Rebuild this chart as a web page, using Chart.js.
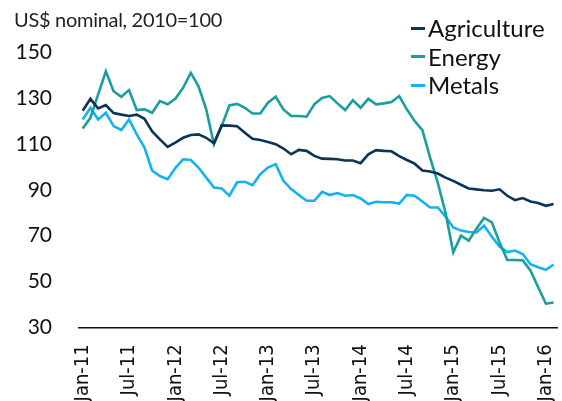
<!DOCTYPE html>
<html>
<head>
<meta charset="utf-8">
<script src="https://cdn.jsdelivr.net/npm/chart.js@4/dist/chart.umd.min.js"></script>
<style>
  body { margin: 0; background: #fff; }
  #wrap { position: relative; width: 562px; height: 401px; }
  #title { position: absolute; left: 14px; top: 7px; font: 20px Lato, sans-serif; color: #231f20; letter-spacing: -0.3px; white-space: nowrap; }
  #legend { position: absolute; left: 411px; top: 14px; font: 24px Lato, sans-serif; color: #111; line-height: 28.6px; }
  #legend .item { display: flex; align-items: center; white-space: nowrap; }
  #legend .mark { display: inline-block; width: 14px; height: 3px; margin-right: 3px; }
</style>
</head>
<body>
<div id="wrap">
  <canvas id="chart" width="562" height="401"></canvas>
  <div id="title">US$ nominal, 2010=100</div>
  <div id="legend"></div>
</div>
<script>
// ===== DATA =====
const months = [
  "Jan-11","Feb-11","Mar-11","Apr-11","May-11","Jun-11","Jul-11","Aug-11","Sep-11","Oct-11","Nov-11","Dec-11",
  "Jan-12","Feb-12","Mar-12","Apr-12","May-12","Jun-12","Jul-12","Aug-12","Sep-12","Oct-12","Nov-12","Dec-12",
  "Jan-13","Feb-13","Mar-13","Apr-13","May-13","Jun-13","Jul-13","Aug-13","Sep-13","Oct-13","Nov-13","Dec-13",
  "Jan-14","Feb-14","Mar-14","Apr-14","May-14","Jun-14","Jul-14","Aug-14","Sep-14","Oct-14","Nov-14","Dec-14",
  "Jan-15","Feb-15","Mar-15","Apr-15","May-15","Jun-15","Jul-15","Aug-15","Sep-15","Oct-15","Nov-15","Dec-15",
  "Jan-16","Feb-16"
];
const tickLabels = ["Jan-11","Jul-11","Jan-12","Jul-12","Jan-13","Jul-13","Jan-14","Jul-14","Jan-15","Jul-15","Jan-16"];
const yTicks = [30, 50, 70, 90, 110, 130, 150];

const agriculture = [
  124.5,129.7,125.5,127,123.5,122.8,122.2,122.8,121,115.5,112,108.7,
  110.6,112.7,113.9,114.2,112.7,110.3,118.1,118,117.7,114.9,112.3,111.7,
  110.9,109.9,108,105.5,107.4,107,104.8,103.6,103.5,103.3,102.8,102.8,
  101.6,105.5,107.3,107,106.8,104.7,103,101.4,98.4,98,97.1,95.3,
  93.9,92.2,90.6,90.2,89.8,89.6,90.2,87.4,85.5,86.4,84.9,84.2,
  83,83.8
];
const energy = [
  116.7,121.4,131.6,141.7,133,130.6,133.5,124.8,125.1,123.6,128.7,127.3,
  129.7,134.5,141,135.2,125.1,109.9,117.8,126.8,127.5,125.8,123.3,123.3,
  128,130.6,125.1,122.2,122.2,121.9,127.3,130.1,130.9,127.7,124.8,129.1,
  125.8,129.7,127.3,127.7,128.3,130.9,125,120,116,104,93,80,
  62.7,70,67.8,73,77.7,75.8,67,59.4,59.4,59.2,54.8,47.5,
  40.3,40.8
];
const metals = [
  120.7,125.8,120.7,123.6,117.8,116.1,120.7,114.2,108.4,98.3,96,94.6,
  99.5,103.3,103,99.7,95.3,91,90.6,87.4,93.3,93.5,92,96.8,
  99.7,101.2,93.9,90.3,87.7,85.2,85.2,89.1,87.7,88.6,87.4,87.7,
  86.2,83.8,84.8,84.6,84.6,84,87.8,87.4,84.9,82.3,82.3,78.3,
  73.6,72.2,71.6,71.4,74.3,69.5,65.2,62.8,63.5,62,57.5,56.2,
  55.1,57.4
];

const series = [
  { label: "Agriculture", values: agriculture, color: "#0d3356" },
  { label: "Energy", values: energy, color: "#1a9e9e" },
  { label: "Metals", values: metals, color: "#14b2ee" }
];

// ===== LEGEND (html) =====
const legendEl = document.getElementById('legend');
series.forEach(s => {
  const row = document.createElement('div');
  row.className = 'item';
  row.innerHTML = `<span class="mark" style="background:${s.color}"></span><span>${s.label}</span>`;
  legendEl.appendChild(row);
});

// ===== CHART =====
const tickIdx = tickLabels.map(l => months.indexOf(l));

new Chart(document.getElementById('chart').getContext('2d'), {
  type: 'line',
  data: {
    datasets: series.map(s => ({
      label: s.label,
      data: s.values.map((v, i) => ({ x: i, y: v })),
      borderColor: s.color,
      borderWidth: 2.6,
      pointRadius: 0,
      tension: 0,
      fill: false
    }))
  },
  options: {
    responsive: false,
    animation: false,
    layout: { padding: { top: 52.3, right: 5, bottom: 0, left: 0 } },
    plugins: { legend: { display: false }, tooltip: { enabled: false } },
    scales: {
      x: {
        type: 'linear',
        min: -0.48,
        max: 61.44,
        afterBuildTicks: scale => { scale.ticks = tickIdx.map(v => ({ value: v })); },
        afterFit: scale => {
          scale.height = 401 - 327.3;
          scale.paddingLeft = 0;
          scale.paddingRight = 0;
        },
        grid: { display: false, drawTicks: false },
        border: { display: true, color: '#111', width: 1.5 },
        ticks: {
          autoSkip: false,
          minRotation: 90,
          maxRotation: 90,
          padding: 17,
          color: '#111',
          font: { family: '"Liberation Sans Narrow", "DejaVu Sans Condensed", sans-serif', size: 20 },
          callback: v => months[v]
        }
      },
      y: {
        min: 30,
        max: 150,
        afterBuildTicks: scale => { scale.ticks = yTicks.map(v => ({ value: v })); },
        afterFit: scale => { scale.width = 79; },
        grid: { display: false, drawTicks: false },
        border: { display: false },
        ticks: {
          padding: 27,
          color: '#111',
          font: { family: 'Lato, sans-serif', size: 21 }
        }
      }
    }
  }
});
</script>
</body>
</html>
